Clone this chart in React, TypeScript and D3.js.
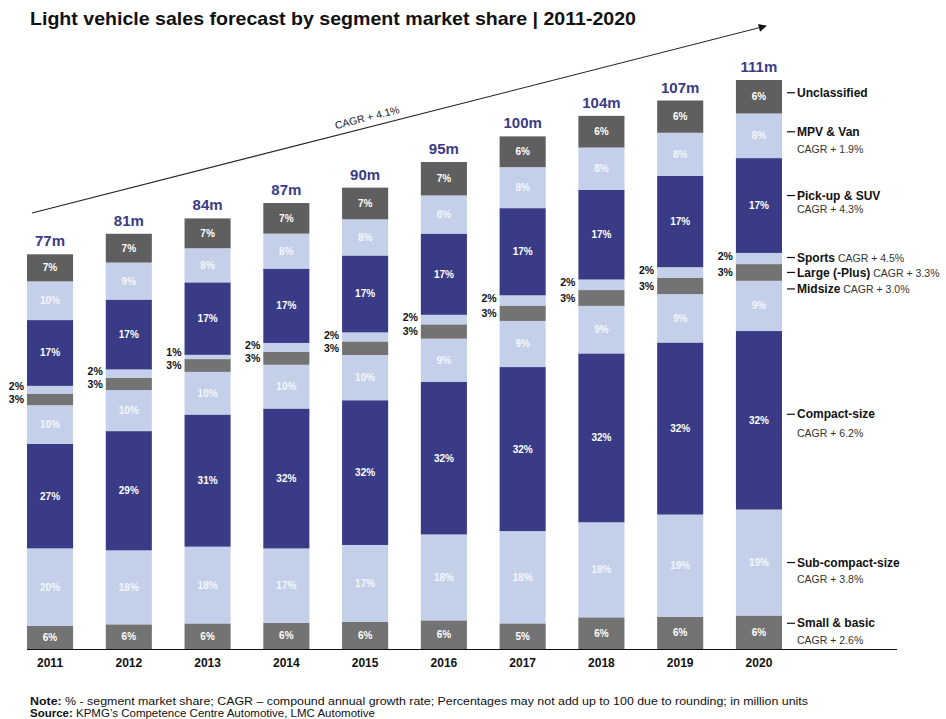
import * as React from 'react';
import * as d3 from 'd3';

// years and total light vehicle sales (million units)
const years = ['2011', '2012', '2013', '2014', '2015', '2016', '2017', '2018', '2019', '2020'];
const totals = [77, 81, 84, 87, 90, 95, 100, 104, 107, 111];

// segment market share in %, bottom to top
const smallBasic = [6, 6, 6, 6, 6, 6, 5, 6, 6, 6];
const subCompact = [20, 18, 18, 17, 17, 18, 18, 18, 19, 19];
const compactSize = [27, 29, 31, 32, 32, 32, 32, 32, 32, 32];
const midsize = [10, 10, 10, 10, 10, 9, 9, 9, 9, 9];
const largePlus = [3, 3, 3, 3, 3, 3, 3, 3, 3, 3];
const sports = [2, 2, 1, 2, 2, 2, 2, 2, 2, 2];
const pickupSuv = [17, 17, 17, 17, 17, 17, 17, 17, 17, 17];
const mpvVan = [10, 9, 8, 8, 8, 8, 8, 8, 8, 8];
const unclassified = [7, 7, 7, 7, 7, 7, 6, 6, 6, 6];

const segmentNames = ['Small & basic', 'Sub-compact-size', 'Compact-size', 'Midsize', 'Large (-Plus)', 'Sports', 'Pick-up & SUV', 'MPV & Van', 'Unclassified'];
const segmentCagr = ['CAGR + 2.6%', 'CAGR + 3.8%', 'CAGR + 6.2%', 'CAGR + 3.0%', 'CAGR + 3.3%', 'CAGR + 4.5%', 'CAGR + 4.3%', 'CAGR + 1.9%', ''];
const totalCagr = 'CAGR + 4.1%';

const NAVY = '#3a3b86';
const LIGHT = '#c4d0e9';
const GREY = '#737373';
const DARK = '#5f5f5f';

const seriesList = [smallBasic, subCompact, compactSize, midsize, largePlus, sports, pickupSuv, mpvVan, unclassified];
const segColors = [GREY, LIGHT, NAVY, LIGHT, GREY, LIGHT, NAVY, LIGHT, DARK];
// how the right-hand labels are laid out: inline CAGR or on a second line, plus a nudge
const labelLayout = [
    {inline: false, nudge: -9, gap: 17},
    {inline: false, nudge: 0, gap: 17},
    {inline: false, nudge: -6, gap: 19},
    {inline: true, nudge: -17, gap: 0},
    {inline: true, nudge: 0, gap: 0},
    {inline: true, nudge: -1, gap: 0},
    {inline: false, nudge: -10, gap: 14},
    {inline: false, nudge: -4, gap: 18},
    {inline: false, nudge: -4, gap: 0},
];

const FONT = '"Liberation Sans", Arial, sans-serif';
const NARROW = '"Liberation Sans Narrow", "Liberation Sans", Arial, sans-serif';

class App extends React.Component<any, any> {
    ref = React.createRef<SVGSVGElement>();

    componentDidMount() {
        this.createGraph();
    }

    createGraph() {
        const svg = d3.select(this.ref.current);
        svg.selectAll('*').remove();

        const baseline = 649;
        const xScale = d3.scaleBand()
            .domain(years)
            .range([27, 782])
            .paddingInner(0.415)
            .paddingOuter(0);
        const yScale = d3.scaleLinear()
            .domain([0, 111])
            .range([baseline, 80]);

        // build stacked rows: each segment in million units, scaled so shares fill the total
        const rows = years.map((yr, i) => {
            const shares = seriesList.map(s => s[i]);
            const sum = d3.sum(shares);
            let acc = 0;
            const segs = shares.map((p, k) => {
                const v = totals[i] * p / sum;
                const seg = {k: k, pct: p, y0: acc, y1: acc + v};
                acc += v;
                return seg;
            });
            return {year: yr, total: totals[i], segs: segs};
        });

        // title
        svg.append('text')
            .attr('x', 30)
            .attr('y', 25)
            .attr('textLength', 606)
            .attr('lengthAdjust', 'spacingAndGlyphs')
            .style('font-family', FONT)
            .style('font-weight', 'bold')
            .style('font-size', '19px')
            .style('fill', '#111')
            .text('Light vehicle sales forecast by segment market share | 2011-2020');

        // growth arrow
        svg.append('defs').append('marker')
            .attr('id', 'arrowhead')
            .attr('viewBox', '0 0 10 10')
            .attr('refX', 9)
            .attr('refY', 5)
            .attr('markerWidth', 10)
            .attr('markerHeight', 8)
            .attr('markerUnits', 'userSpaceOnUse')
            .attr('orient', 'auto')
            .append('path')
            .attr('d', 'M0,0 L10,5 L0,10 z')
            .style('fill', '#111');
        const ax0 = 32, ay0 = 213, ax1 = 766, ay1 = 26;
        svg.append('line')
            .attr('x1', ax0).attr('y1', ay0)
            .attr('x2', ax1).attr('y2', ay1)
            .style('stroke', '#222')
            .style('stroke-width', 1.1)
            .attr('marker-end', 'url(#arrowhead)');
        const angle = Math.atan2(ay1 - ay0, ax1 - ax0) * 180 / Math.PI;
        svg.append('text')
            .attr('transform', 'translate(368,121) rotate(' + angle + ')')
            .attr('text-anchor', 'middle')
            .style('font-family', FONT)
            .style('font-size', '10.5px')
            .style('fill', '#222')
            .text(totalCagr);

        // bars
        const bars = svg.append('g');
        const groups = bars.selectAll('.bar')
            .data(rows)
            .enter()
            .append('g')
            .attr('class', 'bar')
            .attr('transform', d => 'translate(' + xScale(d.year) + ',0)');

        groups.selectAll('rect')
            .data(d => d.segs)
            .enter()
            .append('rect')
            .attr('x', 0)
            .attr('y', d => yScale(d.y1))
            .attr('width', xScale.bandwidth())
            .attr('height', d => yScale(d.y0) - yScale(d.y1))
            .style('fill', d => segColors[d.k]);

        // labels inside the big segments
        groups.selectAll('.seg-label')
            .data(d => d.segs.filter(s => s.k !== 4 && s.k !== 5))
            .enter()
            .append('text')
            .attr('class', 'seg-label')
            .attr('x', xScale.bandwidth() / 2)
            .attr('y', d => (yScale(d.y0) + yScale(d.y1)) / 2)
            .attr('dy', '0.35em')
            .attr('text-anchor', 'middle')
            .style('font-family', FONT)
            .style('font-weight', 'bold')
            .style('font-size', '10px')
            .style('fill', d => segColors[d.k] === LIGHT ? '#f4f6fb' : '#fff')
            .text(d => d.pct + '%');

        // sports / large labels outside to the left
        groups.each(function (d) {
            const g = d3.select(this);
            const lg = d.segs[4], sp = d.segs[5];
            const largeMid = (yScale(lg.y0) + yScale(lg.y1)) / 2;
            let sportsMid = (yScale(sp.y0) + yScale(sp.y1)) / 2;
            sportsMid = Math.min(sportsMid, largeMid - 11);
            [[sp, sportsMid - 2], [lg, largeMid]].forEach(([s, y]: any) => {
                g.append('text')
                    .attr('x', -3)
                    .attr('y', y)
                    .attr('dy', '0.35em')
                    .attr('text-anchor', 'end')
                    .style('font-family', FONT)
                    .style('font-weight', 'bold')
                    .style('font-size', '10.5px')
                    .style('fill', '#111')
                    .text(s.pct + '%');
            });
        });

        // totals
        groups.append('text')
            .attr('x', xScale.bandwidth() / 2)
            .attr('y', d => yScale(d.total) - 8)
            .attr('text-anchor', 'middle')
            .style('font-family', FONT)
            .style('font-weight', 'bold')
            .style('font-size', '15px')
            .style('fill', NAVY)
            .text(d => d.total + 'm');

        // x axis
        svg.append('line')
            .attr('x1', 27).attr('x2', 897)
            .attr('y1', baseline + 0.5).attr('y2', baseline + 0.5)
            .style('stroke', '#111')
            .style('stroke-width', 1.2);
        const xAxis = d3.axisBottom(xScale).tickSize(0).tickPadding(9);
        const axisG = svg.append('g')
            .attr('transform', 'translate(0,' + baseline + ')')
            .call(xAxis);
        axisG.select('.domain').remove();
        axisG.selectAll('text')
            .style('font-family', FONT)
            .style('font-weight', 'bold')
            .style('font-size', '12px')
            .style('fill', '#111');

        // right-hand segment labels, tied to the 2020 bar
        const last = rows[rows.length - 1];
        const barRight = (xScale(last.year) as number) + xScale.bandwidth();
        const legend = svg.append('g');
        last.segs.forEach((s, k) => {
            const lay = labelLayout[k];
            const y = (yScale(s.y0) + yScale(s.y1)) / 2 + lay.nudge;
            legend.append('line')
                .attr('x1', barRight + 5).attr('x2', barRight + 13)
                .attr('y1', y).attr('y2', y)
                .style('stroke', '#111')
                .style('stroke-width', 1.2);
            const t = legend.append('text')
                .attr('x', barRight + 15)
                .attr('y', y)
                .attr('dy', '0.35em')
                .style('font-family', FONT)
                .style('font-size', '12px')
                .style('fill', '#111');
            t.append('tspan')
                .style('font-weight', 'bold')
                .text(segmentNames[k]);
            if (segmentCagr[k] && lay.inline) {
                t.append('tspan')
                    .style('font-size', '10.5px')
                    .style('fill', '#333')
                    .text(' ' + segmentCagr[k]);
            } else if (segmentCagr[k]) {
                legend.append('text')
                    .attr('x', barRight + 15)
                    .attr('y', y + lay.gap)
                    .attr('dy', '0.35em')
                    .style('font-family', FONT)
                    .style('font-size', '10.5px')
                    .style('fill', '#333')
                    .text(segmentCagr[k]);
            }
        });

        // footnotes
        const note = svg.append('text')
            .attr('x', 30)
            .attr('y', 705)
            .attr('textLength', 778)
            .attr('lengthAdjust', 'spacingAndGlyphs')
            .style('font-family', NARROW)
            .style('font-size', '11.5px')
            .style('fill', '#111');
        note.append('tspan').style('font-weight', 'bold').text('Note:');
        note.append('tspan').text(' % - segment market share; CAGR \u2013 compound annual growth rate; Percentages may not add up to 100 due to rounding; in million units');
        const src = svg.append('text')
            .attr('x', 30)
            .attr('y', 717)
            .style('font-family', NARROW)
            .style('font-size', '11.5px')
            .style('fill', '#111');
        src.append('tspan').style('font-weight', 'bold').text('Source:');
        src.append('tspan').text(' KPMG\u2019s Competence Centre Automotive, LMC Automotive');
    }

    render() {
        return (
            <svg ref={this.ref} width={946} height={719}
                 style={{position: 'absolute', left: 0, top: 0, background: '#fff'}}>
            </svg>
        );
    }
}

export default App;
